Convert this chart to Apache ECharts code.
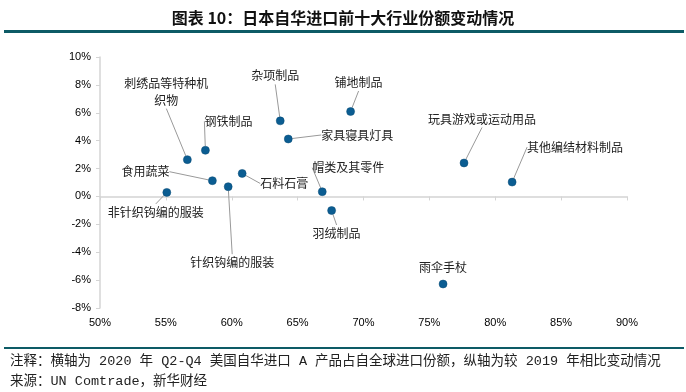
<!DOCTYPE html>
<html>
<head>
<meta charset="utf-8">
<script src="https://cdn.jsdelivr.net/npm/echarts@6/dist/echarts.min.js"></script>
<style>
html,body{margin:0;padding:0;background:#fff;}
#c{width:686px;height:392px;}
</style>
</head>
<body>
<div id="c"></div>
<script>
// Data
var names = ['刺绣品等特种机\n织物','钢铁制品','食用蔬菜','针织钩编的服装','石料石膏','杂项制品','家具寝具灯具','非针织钩编的服装','铺地制品','玩具游戏或运动用品','其他编结材料制品','帽类及其零件','羽绒制品','雨伞手杖'];
var shareX = [56.63, 58.0, 58.53, 59.73, 60.79, 63.68, 64.29, 55.07, 69.02, 77.63, 81.28, 66.87, 67.58, 76.04];
var changeY = [2.64, 3.31, 1.13, 0.70, 1.65, 5.42, 4.12, 0.29, 6.09, 2.40, 1.03, 0.34, -1.01, -6.28];
var xTicks = [50, 55, 60, 65, 70, 75, 80, 85, 90];
var yTicks = [-8, -6, -4, -2, 0, 2, 4, 6, 8, 10];
// label offsets (px) relative to each point
var labelDx = [-21, 23, -67, 4, 42, -5, 69, -11, 8, 18, 63, 26, 5, 0];
var labelDy = [-68, -29, -9, 76, 10, -45, -4, 20, -29, -44, -35, -24, 23, -17];
var showLine = [true, true, true, true, true, true, true, true, true, true, true, true, true, false];

var titleText = '图表 10：日本自华进口前十大行业份额变动情况';
var note1 = '注释：横轴为 2020 年 Q2-Q4 美国自华进口 A 产品占自全球进口份额，纵轴为较 2019 年相比变动情况';
var note2 = '来源：UN Comtrade，新华财经';

var chart = echarts.init(document.getElementById('c'), null, {renderer: 'canvas'});
var pts = shareX.map(function (x, i) {
  return {
    value: [x, changeY[i]],
    name: names[i],
    labelLine: {show: showLine[i]}
  };
});
var cjk = '"Noto Sans CJK SC", sans-serif';
var noteFont = '"Liberation Mono", "Noto Sans CJK SC", monospace';
var lat = '"Liberation Sans", Arial, sans-serif';
chart.setOption({
  animation: false,
  title: {
    text: titleText, left: 'center', top: 5,
    textStyle: {fontFamily: cjk, fontSize: 16, fontWeight: 'bold', color: '#111'}
  },
  graphic: [
    {type: 'rect', shape: {x: 4, y: 30, width: 680, height: 3}, style: {fill: '#0d5b66'}},
    {type: 'rect', shape: {x: 4, y: 347, width: 680, height: 2}, style: {fill: '#0d5b66'}},
    {type: 'text', left: 10, top: 355, style: {text: note1, font: '13.5px ' + noteFont, fill: '#222'}},
    {type: 'text', left: 10, top: 375, style: {text: note2, font: '13.5px ' + noteFont, fill: '#222'}}
  ],
  grid: {left: 100, right: 59, top: 57, bottom: 84},
  xAxis: [{
    type: 'value', min: xTicks[0], max: xTicks[xTicks.length - 1], interval: 5,
    position: 'bottom',
    axisLine: {show: false, onZero: false},
    axisTick: {show: false},
    splitLine: {show: false},
    axisLabel: {formatter: '{value}%', margin: 9, fontFamily: lat, fontSize: 11, color: '#000'}
  }, {
    type: 'value', min: xTicks[0], max: xTicks[xTicks.length - 1], interval: 5,
    position: 'bottom',
    axisLine: {show: true, onZero: true, lineStyle: {color: '#d4d4d4', width: 1.5}},
    axisTick: {show: true, length: 4, lineStyle: {color: '#d4d4d4'}},
    splitLine: {show: false},
    axisLabel: {show: false}
  }],
  yAxis: {
    type: 'value', min: yTicks[0], max: yTicks[yTicks.length - 1], interval: 2,
    axisLine: {show: true, onZero: false, lineStyle: {color: '#d4d4d4', width: 1.5}},
    axisTick: {show: true, length: 4, lineStyle: {color: '#d4d4d4'}},
    splitLine: {show: false},
    axisLabel: {formatter: '{value}%', margin: 9, fontFamily: lat, fontSize: 11, color: '#000'}
  },
  series: [{
    type: 'scatter',
    xAxisIndex: 0,
    data: pts,
    symbolSize: 8,
    itemStyle: {color: '#0b5d92', borderColor: '#084a75', borderWidth: 0.5, opacity: 1},
    label: {
      show: true, position: 'inside',
      formatter: function (p) { return p.name; },
      fontFamily: cjk, fontSize: 12, color: '#222', align: 'center', lineHeight: 17
    },
    labelLine: {show: true, lineStyle: {color: '#999', width: 1}},
    labelLayout: function (p) {
      return {dx: labelDx[p.dataIndex], dy: labelDy[p.dataIndex]};
    }
  }, {
    type: 'scatter', xAxisIndex: 1, data: [], silent: true
  }]
});
</script>
</body>
</html>
